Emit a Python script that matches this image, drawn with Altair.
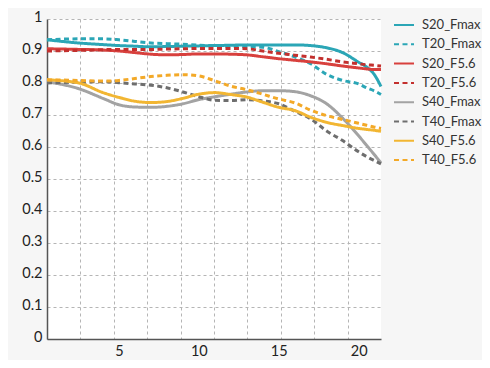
import altair as alt
import pandas as pd

# ---- data ----
x_vals = [0.5, 2.5, 4, 5, 6, 7, 8, 9, 10, 11, 12, 13, 14, 15, 16, 17, 18, 19, 20, 20.5, 21, 21.4]

series_names = ["S20_Fmax", "T20_Fmax", "S20_F5.6", "T20_F5.6",
                "S40_Fmax", "T40_Fmax", "S40_F5.6", "T40_F5.6"]

S20_Fmax = [0.935, 0.925, 0.920, 0.917, 0.915, 0.913, 0.914, 0.915, 0.916, 0.917, 0.918,
            0.919, 0.919, 0.919, 0.919, 0.917, 0.910, 0.895, 0.865, 0.850, 0.825, 0.789]
T20_Fmax = [0.935, 0.938, 0.938, 0.935, 0.930, 0.925, 0.923, 0.921, 0.918, 0.917, 0.915,
            0.913, 0.912, 0.898, 0.882, 0.860, 0.827, 0.808, 0.797, 0.785, 0.775, 0.764]
S20_F56 = [0.907, 0.905, 0.903, 0.900, 0.895, 0.890, 0.888, 0.889, 0.891, 0.891, 0.890,
           0.888, 0.882, 0.876, 0.871, 0.866, 0.860, 0.853, 0.847, 0.844, 0.842, 0.842]
T20_F56 = [0.900, 0.902, 0.904, 0.905, 0.905, 0.905, 0.906, 0.907, 0.908, 0.908, 0.908,
           0.907, 0.900, 0.893, 0.887, 0.881, 0.874, 0.866, 0.860, 0.857, 0.855, 0.853]
S40_Fmax = [0.804, 0.782, 0.752, 0.732, 0.725, 0.724, 0.727, 0.735, 0.748, 0.757, 0.765,
            0.772, 0.776, 0.776, 0.773, 0.760, 0.735, 0.690, 0.635, 0.605, 0.575, 0.550]
T40_Fmax = [0.800, 0.803, 0.804, 0.801, 0.797, 0.793, 0.785, 0.772, 0.757, 0.746, 0.745,
            0.748, 0.744, 0.735, 0.712, 0.688, 0.650, 0.620, 0.585, 0.570, 0.557, 0.547]
S40_F56 = [0.810, 0.800, 0.770, 0.755, 0.743, 0.739, 0.742, 0.752, 0.765, 0.770, 0.764,
           0.756, 0.740, 0.724, 0.714, 0.693, 0.677, 0.667, 0.658, 0.655, 0.652, 0.649]
T40_F56 = [0.810, 0.808, 0.806, 0.808, 0.814, 0.820, 0.824, 0.826, 0.822, 0.807, 0.790,
           0.779, 0.765, 0.750, 0.738, 0.715, 0.698, 0.686, 0.674, 0.668, 0.662, 0.658]

series_values = [S20_Fmax, T20_Fmax, S20_F56, T20_F56, S40_Fmax, T40_Fmax, S40_F56, T40_F56]

x_ticks = [5, 10, 15, 20]
x_grid = [2.59, 4.68, 6.77, 8.86, 10.95, 13.04, 15.13, 17.22, 19.31]
y_ticks = [0, 0.1, 0.2, 0.3, 0.4, 0.5, 0.6, 0.7, 0.8, 0.9, 1]

colors = ["#2ba6b6", "#2ba6b6", "#d8403d", "#c3302e",
          "#a3a3a3", "#6e6e6e", "#f2b632", "#f3a928"]
dashes = [[1, 0], [5, 3.5], [1, 0], [5, 3.5], [1, 0], [5, 3.5], [1, 0], [5, 3.5]]

rows = []
for name, vals in zip(series_names, series_values):
    for xv, yv in zip(x_vals, vals):
        rows.append({"x": xv, "y": yv, "series": name})
df = pd.DataFrame(rows)

x_scale = alt.Scale(domain=[0.5, 21.4], nice=False, zero=False)
y_scale = alt.Scale(domain=[0, 1], nice=False)

FONT = "Lato"

legend = alt.Legend(
    title=None, orient="none", legendX=346, legendY=-5,
    symbolType="stroke", symbolSize=400, symbolStrokeWidth=2,
    labelFont=FONT, labelFontSize=13, labelColor="#333333",
    labelOffset=7, rowPadding=1.3, padding=0,
)

grid_layer = alt.Chart(df).mark_point(opacity=0).encode(
    x=alt.X("x:Q", scale=x_scale,
            axis=alt.Axis(values=x_grid, grid=True, labels=False, ticks=False,
                          domain=False, orient="bottom", title=None,
                          gridDash=[3, 3], gridColor="#b5b5b5", gridWidth=1)),
    y=alt.Y("y:Q", scale=y_scale,
            axis=alt.Axis(values=y_ticks, grid=True, labels=False, ticks=False,
                          domain=False, orient="left", title=None,
                          gridDash=[3, 3], gridColor="#b5b5b5", gridWidth=1)),
)

lines = alt.Chart(df).mark_line(strokeWidth=3, interpolate="monotone").encode(
    x=alt.X("x:Q", scale=x_scale,
            axis=alt.Axis(values=x_ticks, grid=False, ticks=False, orient="bottom",
                          title=None, labelFont=FONT, labelFontSize=14.5,
                          labelColor="#222222", labelPadding=5,
                          domainColor="#555555", domainWidth=1.5)),
    y=alt.Y("y:Q", scale=y_scale,
            axis=alt.Axis(values=y_ticks, grid=False, ticks=False, orient="left",
                          title=None, format="~g", labelFont=FONT, labelFontSize=14.5,
                          labelColor="#222222", labelPadding=5, labelOffset=-2,
                          domainColor="#555555", domainWidth=1.5)),
    color=alt.Color("series:N", scale=alt.Scale(domain=series_names, range=colors),
                    legend=legend),
    strokeDash=alt.StrokeDash("series:N", scale=alt.Scale(domain=series_names, range=dashes),
                              legend=legend),
)

chart = alt.layer(grid_layer, lines).resolve_axis(
    x="independent", y="independent"
).properties(
    width=334, height=320,
    padding={"left": 39, "top": 11, "right": 101, "bottom": 21},
    autosize=alt.AutoSizeParams(type="none"),
    background="#f6f6f6",
).configure_view(
    fill="white", stroke=None
)

chart.save("out.html", embed_options={"renderer": "svg", "actions": False})
